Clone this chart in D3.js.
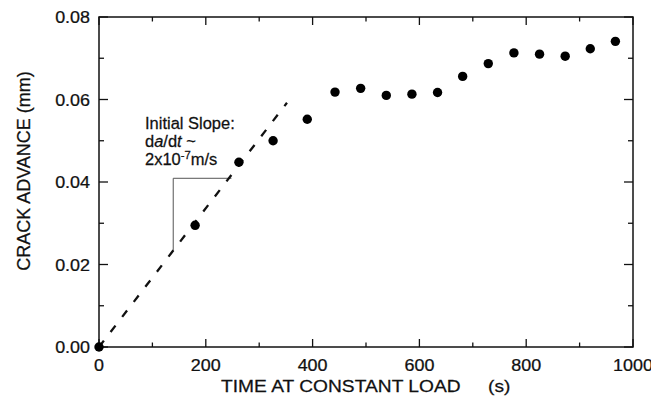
<!DOCTYPE html>
<html>
<head>
<meta charset="utf-8">
<script src="https://cdnjs.cloudflare.com/ajax/libs/d3/7.8.5/d3.min.js"></script>
<style>
    body { margin: 0; background: #ffffff; }
    text { font-family: "Liberation Sans", Arial, sans-serif; fill: #111; stroke: #111; stroke-width: 0.25px; }
</style>
</head>
<body>
<div id="chart"></div>
<script>
// time at constant load (s) and crack advance (mm)
const times = [0, 180, 262, 326, 390, 442, 490, 538, 586, 634, 681, 729, 777, 825, 873, 920, 967];
const advance = [0.0000, 0.0295, 0.0448, 0.0500, 0.0552, 0.0618, 0.0627, 0.0610, 0.0613, 0.0617,
    0.0656, 0.0687, 0.0713, 0.0710, 0.0705, 0.0723, 0.0741];

// initial slope fit (dashed) and the slope triangle
const slopeLine = [[0, 0], [352, 0.0592]];
const slopeTriangle = [[248, 0.0409], [139, 0.0409], [139, 0.0234]];

const xTicks = [0, 200, 400, 600, 800, 1000];
const xMinor = [100, 300, 500, 700, 900];
const yTicks = [0, 0.02, 0.04, 0.06, 0.08];
const yMinor = [0.01, 0.03, 0.05, 0.07];

const width = 651, height = 402;
const margin = {top: 17, right: 18, bottom: 55, left: 99};

let svg = d3.select("#chart")
    .append("svg")
    .attr("width", width)
    .attr("height", height);

let x = d3.scaleLinear().domain([0, 1000]).range([margin.left, width - margin.right]);
let y = d3.scaleLinear().domain([0, 0.08]).range([height - margin.bottom, margin.top]);

// the scanned figure's lettering is a bit wider than tall, hence the x stretch
function label(txt, px, py, size, anchor, stretch) {
    return svg.append("text")
        .attr("transform", "translate(" + px + "," + py + ") scale(" + stretch + ",1)")
        .attr("text-anchor", anchor)
        .style("font-size", size + "px")
        .text(txt);
}

// frame
svg.append("rect")
    .attr("x", x(0)).attr("y", y(0.08))
    .attr("width", x(1000) - x(0)).attr("height", y(0) - y(0.08))
    .style("fill", "none").style("stroke", "#111").style("stroke-width", 1.5);

// inward ticks on all four sides
let ticks = svg.append("g").style("stroke", "#111").style("stroke-width", 1.3);
function xTick(v, len) {
    ticks.append("line").attr("x1", x(v)).attr("x2", x(v)).attr("y1", y(0)).attr("y2", y(0) - len);
    ticks.append("line").attr("x1", x(v)).attr("x2", x(v)).attr("y1", y(0.08)).attr("y2", y(0.08) + len);
}
function yTick(v, len) {
    ticks.append("line").attr("y1", y(v)).attr("y2", y(v)).attr("x1", x(0)).attr("x2", x(0) + len);
    ticks.append("line").attr("y1", y(v)).attr("y2", y(v)).attr("x1", x(1000)).attr("x2", x(1000) - len);
}
xTicks.forEach(v => xTick(v, 8));
xMinor.forEach(v => xTick(v, 4.5));
yTicks.forEach(v => yTick(v, 9));
yMinor.forEach(v => yTick(v, 5));

// tick labels
xTicks.forEach(v => label(String(v), x(v), y(0) + 24, 16, "middle", 1.12));
yTicks.forEach(v => label(v.toFixed(2), x(0) - 9, y(v) + 6, 16, "end", 1.12));

// axis titles
label("TIME AT CONSTANT LOAD", 221, 392, 17, "start", 1.13);
label("(s)", 488, 392, 17, "start", 1.13);
svg.append("text")
    .attr("transform", "translate(30,171) rotate(-90)")
    .attr("text-anchor", "middle")
    .style("font-size", "18px")
    .text("CRACK ADVANCE (mm)");

// slope triangle
svg.append("path")
    .attr("d", d3.line().x(d => x(d[0])).y(d => y(d[1]))(slopeTriangle))
    .style("fill", "none").style("stroke", "#555").style("stroke-width", 1);

// dashed initial slope
svg.append("path")
    .attr("d", d3.line().x(d => x(d[0])).y(d => y(d[1]))(slopeLine))
    .style("fill", "none").style("stroke", "#111")
    .style("stroke-width", 2.3)
    .style("stroke-dasharray", "8,11");

// annotation
label("Initial Slope:", 145, 129, 16, "start", 1.03);
let l2 = label("", 145, 147, 16, "start", 1.03);
l2.append("tspan").text("d");
l2.append("tspan").style("font-style", "italic").text("a");
l2.append("tspan").text("/d");
l2.append("tspan").style("font-style", "italic").text("t");
l2.append("tspan").text(" ~");
let l3 = label("", 145, 165, 16, "start", 1.03);
l3.append("tspan").text("2x10");
l3.append("tspan").attr("dy", -6).style("font-size", "11px").text("-7");
l3.append("tspan").attr("dy", 6).text("m/s");

// data points
svg.append("g")
    .selectAll("circle")
    .data(times.map((t, i) => [t, advance[i]]))
    .enter()
    .append("circle")
    .attr("cx", d => x(d[0]))
    .attr("cy", d => y(d[1]))
    .attr("r", 4.7)
    .style("fill", "#000");
</script>
</body>
</html>
